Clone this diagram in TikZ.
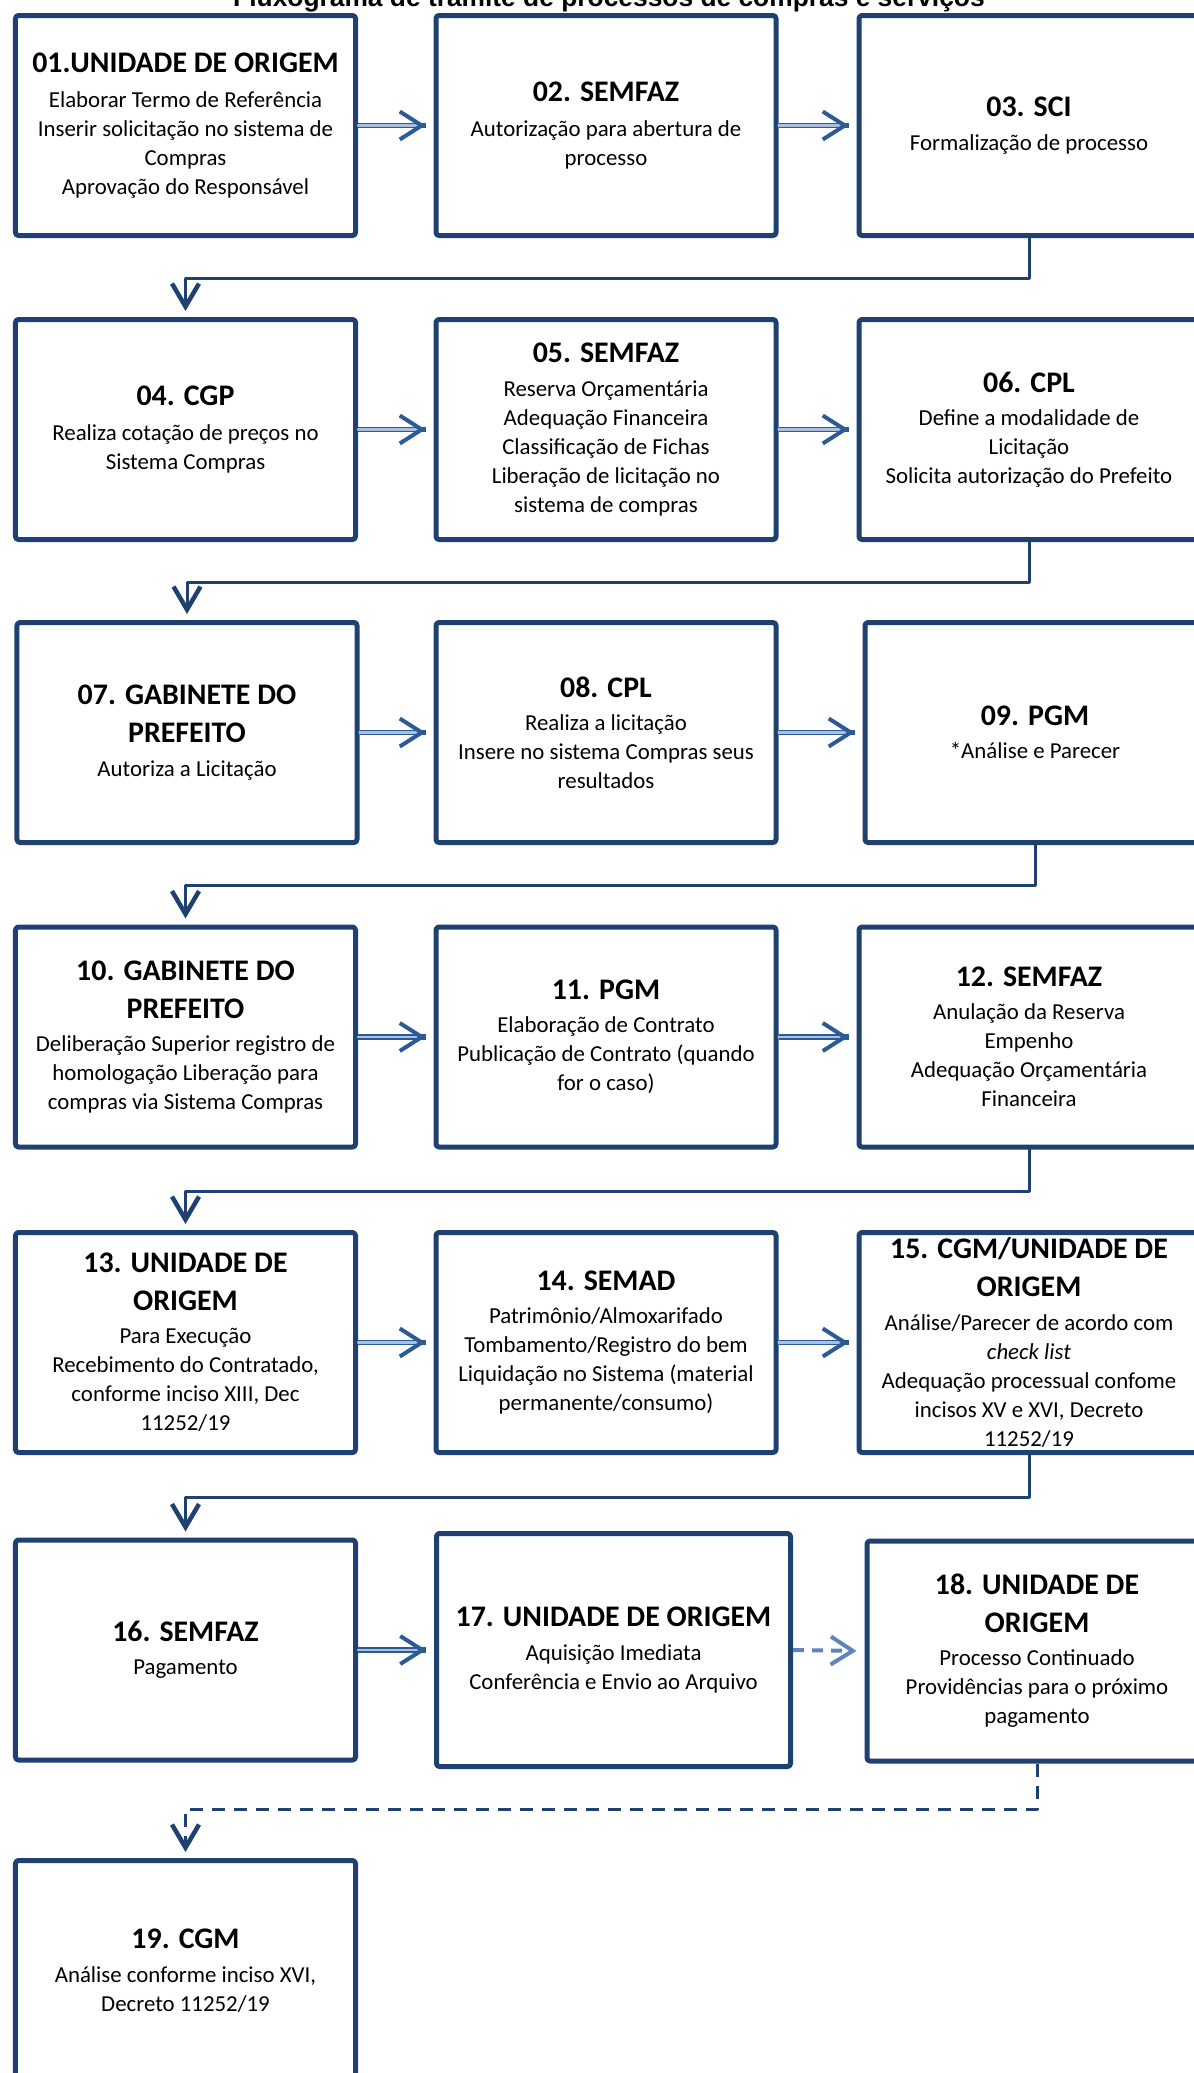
\documentclass[tikz,border=0pt]{standalone}
\usepackage{fontspec}
\setmainfont{Carlito}
\newfontfamily\titulofont{Liberation Sans}
\usepackage{xcolor}
\usepackage{tikz}
\usetikzlibrary{arrows.meta,positioning}
\definecolor{navy}{HTML}{1F4171}
\definecolor{setaescura}{HTML}{2C5A96}
\definecolor{setaclara}{HTML}{A9C0E0}
\definecolor{setatrac}{HTML}{5F83BD}
\newcommand{\cab}[1]{{\fontsize{17}{21}\selectfont\bfseries #1}}
\tikzset{
    every picture/.style={line cap=round,line join=round},
    etapa/.style={draw=navy,fill=white,line width=1mm,rounded corners=0.6mm,
      minimum width=68mm,minimum height=44mm,inner xsep=1mm,inner ysep=0pt,
      outer sep=0.5mm,align=center,font=\fontsize{13}{16.5}\selectfont},
    seta/.style={draw=setaclara,line width=0.45mm,
      preaction={draw=setaescura,line width=1.05mm,line cap=butt,arrows=-},
      -{Straight Barb[length=4.4mm,width=5.6mm,line width=0.8mm,color=setaescura]},
      shorten >=1.6mm},
    setatrac/.style={draw=setatrac,line width=0.8mm,line cap=butt,
      dash pattern=on 2.2mm off 1.6mm,
      -{Straight Barb[length=4.4mm,width=5.6mm,line width=0.8mm,color=setatrac]},
      shorten >=1.6mm},
    desce/.style={draw=navy,line width=0.6mm,
      -{Straight Barb[length=4.6mm,width=5.4mm,line width=0.9mm]},
      shorten >=1.2mm},
    descetrac/.style={desce,line cap=butt,dash pattern=on 2.6mm off 1.8mm}
}

\begin{document}
\begin{tikzpicture}[x=0.2mm,y=-0.2mm]
  \useasboundingbox (0,0) rectangle (1194,2073);
  \node[anchor=base,font=\titulofont\bfseries\fontsize{15}{18}\selectfont] (titulo) at (609,6)
    {Fluxograma de trâmite de processos de compras e serviços};

  \node[etapa] (e01) at (185.5,125.5) {\cab{01.UNIDADE DE ORIGEM}\\[3pt]
    Elaborar Termo de Referência\\ Inserir solicitação no sistema de\\ Compras\\ Aprovação do Responsável};
  \node[etapa] (e02) at (606,125.5) {\cab{02. SEMFAZ}\\[3pt] Autorização para abertura de\\ processo};
  \node[etapa] (e03) at (1029,125.5) {\cab{03. SCI}\\[3pt] Formalização de processo};

  \node[etapa] (e04) at (185.5,429.5) {\cab{04. CGP}\\[3pt] Realiza cotação de preços no\\ Sistema Compras};
  \node[etapa] (e05) at (606,429.5) {\cab{05. SEMFAZ}\\[2.5pt] Reserva Orçamentária\\ Adequação Financeira\\
    Classificação de Fichas\\ Liberação de licitação no\\ sistema de compras};
  \node[etapa] (e06) at (1029,429.5) {\cab{06. CPL}\\[2.5pt] Define a modalidade de\\ Licitação\\ Solicita autorização do Prefeito};

  \node[etapa] (e07) at (187,732.5) {\cab{07. GABINETE DO}\\[5pt]\cab{PREFEITO}\\[3pt] Autoriza a Licitação};
  \node[etapa] (e08) at (606,732.5) {\cab{08. CPL}\\[2.5pt] Realiza a licitação\\ Insere no sistema Compras seus\\ resultados};
  \node[etapa] (e09) at (1035,732.5) {\cab{09. PGM}\\[2.5pt] *Análise e Parecer};

  \node[etapa] (e10) at (185.5,1037) {\cab{10. GABINETE DO}\\[5pt]\cab{PREFEITO}\\[2.5pt]
    Deliberação Superior registro de\\ homologação Liberação para\\ compras via Sistema Compras};
  \node[etapa] (e11) at (606,1037) {\cab{11. PGM}\\[2.5pt] Elaboração de Contrato\\ Publicação de Contrato (quando\\ for o caso)};
  \node[etapa] (e12) at (1029,1037) {\cab{12. SEMFAZ}\\[2.5pt] Anulação da Reserva\\ Empenho\\ Adequação Orçamentária\\ Financeira};

  \node[etapa] (e13) at (185.5,1342.5) {\cab{13. UNIDADE DE}\\[5pt]\cab{ORIGEM}\\[2.5pt] Para Execução\\
    Recebimento do Contratado,\\ conforme inciso XIII, Dec\\ 11252/19};
  \node[etapa] (e14) at (606,1342.5) {\cab{14. SEMAD}\\[2.5pt] Patrimônio/Almoxarifado\\ Tombamento/Registro do bem\\
    Liquidação no Sistema (material\\ permanente/consumo)};
  \node[etapa] (e15) at (1029,1342.5) {\cab{15. CGM/UNIDADE DE}\\[5pt]\cab{ORIGEM}\\[2.5pt] Análise/Parecer de acordo com\\
    \textit{check list}\\ Adequação processual confome\\ incisos XV e XVI, Decreto\\ 11252/19};

  \node[etapa] (e16) at (185.5,1650) {\cab{16. SEMFAZ}\\[2.5pt] Pagamento};
  \node[etapa,minimum width=70.8mm,minimum height=46.6mm] (e17) at (613.5,1650)
    {\cab{17. UNIDADE DE ORIGEM}\\[2.5pt] Aquisição Imediata\\ Conferência e Envio ao Arquivo};
  \node[etapa] (e18) at (1037,1651) {\cab{18. UNIDADE DE}\\[5pt]\cab{ORIGEM}\\[2.5pt] Processo Continuado\\
    Providências para o próximo\\ pagamento};

  \node[etapa] (e19) at (185.5,1970.5) {\cab{19. CGM}\\[2.5pt] Análise conforme inciso XVI,\\ Decreto 11252/19};

  \draw[seta] (e01.east) -- (e02.west);
  \draw[seta] (e02.east) -- (e03.west);
  \draw[seta] (e04.east) -- (e05.west);
  \draw[seta] (e05.east) -- (e06.west);
  \draw[seta] (e07.east) -- (e08.west);
  \draw[seta] (e08.east) -- (e09.west);
  \draw[seta] (e10.east) -- (e11.west);
  \draw[seta] (e11.east) -- (e12.west);
  \draw[seta] (e13.east) -- (e14.west);
  \draw[seta] (e14.east) -- (e15.west);
  \draw[seta] (e16.east) -- (e17.west);
  \draw[setatrac] (e17.east) -- (e18.west);

  \draw[desce] (e03.south) -- ++(0,40) -| (e04.north);
  \draw[desce] (e06.south) -- ++(0,40) -| (e07.north);
  \draw[desce] (e09.south) -- ++(0,40) -| (e10.north);
  \draw[desce] (e12.south) -- ++(0,42) -| (e13.north);
  \draw[desce] (e15.south) -- ++(0,42) -| (e16.north);
  \draw[descetrac] (e18.south) -- ++(0,46) -| (e19.north);
\end{tikzpicture}
\end{document}
